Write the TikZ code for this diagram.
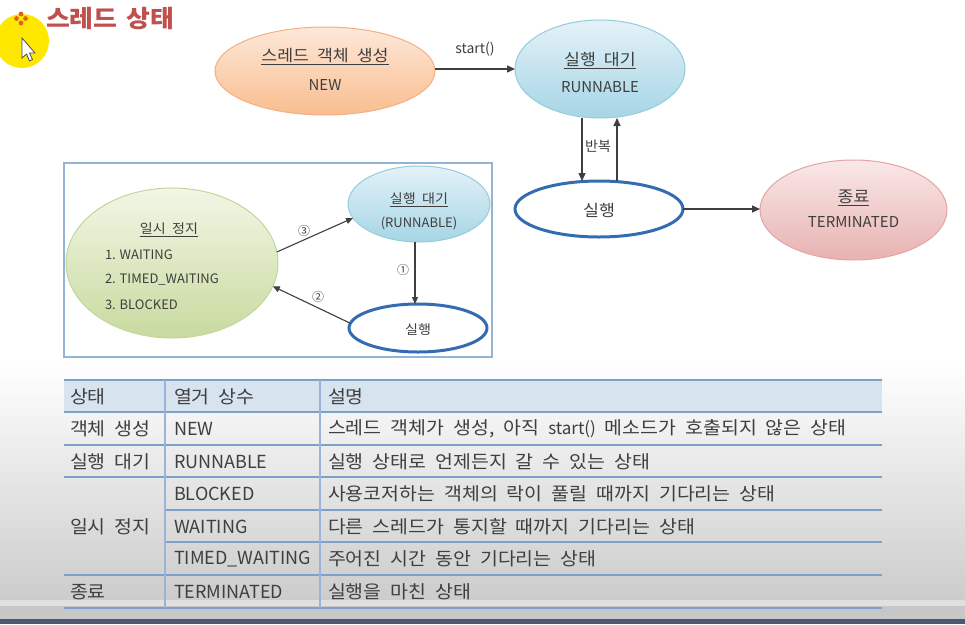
\documentclass[tikz,border=0pt]{standalone}
\usepackage{fontspec}
\setmainfont{Noto Sans CJK KR}
\newfontfamily\krs{Noto Sans CJK KR}[FakeStretch=1.08]
\usetikzlibrary{arrows.meta,shapes.geometric}
\newcommand\ws{\hspace{0.5em}}
\newcommand\tabfnt{\fontsize{18}{21}\selectfont}
\newcommand\tabkfnt{\krs\fontsize{18}{21}\selectfont}
\newcommand\bigkfnt{\krs\fontsize{16}{19}\selectfont}
\newcommand\bigfnt{\fontsize{15}{18}\selectfont}
\newcommand\smallkfnt{\krs\fontsize{13}{16}\selectfont}
\newcommand\titlefnt{\krs\fontsize{24}{27}\selectfont\bfseries}
\definecolor{txt}{HTML}{3F3F3F}
\definecolor{titlered}{HTML}{C0504D}
\definecolor{tline}{HTML}{7F9FCB}
\definecolor{vline}{HTML}{9AB3D8}
\definecolor{hdr}{HTML}{D8E3F0}
\begin{document}
\begin{tikzpicture}[x=1pt,y=-1pt,
  every node/.style={inner sep=0pt,outer sep=0pt,text=txt},
  ell/.style={ellipse,draw,line width=1pt},
  big/.style={font=\bigfnt},
  bigk/.style={font=\bigkfnt},
  small/.style={font=\fontsize{13}{16}\selectfont},
  smallk/.style={font=\smallkfnt},
  tab/.style={font=\tabfnt,anchor=west},
  tabk/.style={font=\tabkfnt,anchor=west},
  arr/.style={draw=txt,line width=1.3pt,-{Triangle[length=8pt,width=7pt]}},
  sarr/.style={draw=txt,line width=1.1pt,-{Triangle[length=7pt,width=6pt]}},
  hl/.style={draw=tline,line width=1.8pt},
  vl/.style={draw=vline,line width=1.1pt}]
\useasboundingbox (0,0) rectangle (965,624);
% background
\fill[white] (0,0) rectangle (965,362);
\shade[top color=white,bottom color={black!20}] (0,362) rectangle (965,600);
\fill[black!12] (0,600) rectangle (965,606);
\fill[black!22] (0,606) rectangle (965,619);
\fill[fill={rgb,255:red,76;green,88;blue,112}] (0,619) rectangle (965,624);
% cursor highlight
\fill[fill={rgb,255:red,255;green,232;blue,0}] (22,41) circle (27);
\foreach \p in {(21,14),(16.5,18.5),(25.5,18.5),(21,23)} \fill[fill={rgb,255:red,217;green,100;blue,30}] \p circle (2.4);
\filldraw[fill=white,draw=black!70,line width=0.8pt] (22,38) -- (22,58) -- (26.5,54) -- (29.5,61) -- (32.5,59.5) -- (29.5,53) -- (35,53) -- cycle;
% title
\node[anchor=west,text=titlered,font=\titlefnt] (title) at (46,19) {스레드\hspace{9pt}상태};
% NEW
\node[ell,draw={rgb,255:red,244;green,176;blue,132},top color={rgb,255:red,253;green,233;blue,217},bottom color={rgb,255:red,249;green,189;blue,143},minimum width=220pt,minimum height=88pt] (new) at (325,71) {};
\node[bigk] (newk) at (325,57) {\underline{스레드\ws 객체\ws 생성}};
\node[big] (newe) at (325,85) {NEW};
% RUNNABLE
\node[ell,draw={rgb,255:red,146;green,205;blue,220},top color={rgb,255:red,228;green,242;blue,248},bottom color={rgb,255:red,166;green,213;blue,229},minimum width=170pt,minimum height=98pt] (runb) at (600,69) {};
\node[bigk] (runk) at (600,61) {\underline{실행\ws 대기}};
\node[big] (rune) at (600,87) {RUNNABLE};
\draw[arr] (new.east |- 0,69) -- (runb.west) node[midway,above=13pt,font=\fontsize{14}{16}\selectfont] (startl) {start()};
% exec
\node[ell,draw={rgb,255:red,52;green,108;blue,178},line width=3pt,fill=white,minimum width=168pt,minimum height=56pt] (exec) at (599,209) {};
\node[bigk] (execk) at (599,210) {실행};
\draw[arr] ([xshift=-18pt]runb.south) -- ([xshift=-17pt]exec.north);
\draw[arr] ([xshift=18pt]exec.north) -- ([xshift=17pt]runb.south);
\node[font=\fontsize{14}{16}\selectfont] (rep) at (598,146) {반복};
% TERMINATED
\node[ell,draw={rgb,255:red,230;green,163;blue,163},top color={rgb,255:red,250;green,232;blue,232},bottom color={rgb,255:red,232;green,178;blue,178},minimum width=187pt,minimum height=100pt] (term) at (853.5,210) {};
\node[bigk] (termk) at (853.5,198) {\underline{종료}};
\node[big] (terme) at (853.5,222) {TERMINATED};
\draw[arr] (exec.east) -- (term.west |- exec.east);
% inset box
\node[draw={rgb,255:red,149;green,179;blue,215},line width=1.5pt,minimum width=428pt,minimum height=194pt] (box) at (278,260) {};
\node[ell,draw={rgb,255:red,195;green,214;blue,155},top color={rgb,255:red,242;green,246;blue,230},bottom color={rgb,255:red,200;green,218;blue,158},minimum width=212pt,minimum height=150pt] (wait) at (172,263) {};
\node[smallk] (waitk) at (169,230) {\underline{일시\ws 정지}};
\node[small,anchor=west] (w1) at (105,255) {1. WAITING};
\node[small,anchor=west] (w2) at (105,280) {2. TIMED\_WAITING};
\node[small,anchor=west] (w3) at (105,305) {3. BLOCKED};
\node[ell,draw={rgb,255:red,146;green,205;blue,220},top color={rgb,255:red,228;green,242;blue,248},bottom color={rgb,255:red,166;green,213;blue,229},minimum width=142pt,minimum height=76pt] (sr) at (419,204) {};
\node[smallk] (srk) at (419,200) {\underline{실행\ws 대기}};
\node[small] (sre) at (419,223) {(RUNNABLE)};
\node[ell,draw={rgb,255:red,52;green,108;blue,178},line width=3pt,fill=white,minimum width=138pt,minimum height=48pt] (se) at (418,328) {};
\node[smallk] (sek) at (418,330) {실행};
\draw[sarr] ([xshift=-4pt]sr.south) -- ([xshift=-3pt]se.north);
\node[font=\fontsize{12}{14}\selectfont] (c1) at (403,270) {①};
\draw[sarr] (wait.6) -- (sr.192);
\node[font=\fontsize{12}{14}\selectfont] (c3) at (304,231) {③};
\draw[sarr] (se.176) -- (wait.-13);
\node[font=\fontsize{12}{14}\selectfont] (c2) at (318,297) {②};
% table
\fill[hdr] (64,380) rectangle (882,412);
\foreach \yy in {380,412,445,477,575,608} \draw[hl] (64,\yy) -- (882,\yy);
\foreach \yy in {510,542} \draw[hl] (165,\yy) -- (882,\yy);
\foreach \xx in {165,320} \draw[vl] (\xx,380) -- (\xx,608);
\node[tabk] (h1) at (70,397) {상태};
\node[tabk] (h2) at (174,397) {열거\ws 상수};
\node[tabk] (h3) at (328,397) {설명};
\node[tabk] (a1) at (70,429) {객체\ws 생성};
\node[tab] (a2) at (174,429) {NEW};
\node[tabk] (a3) at (328,429) {스레드\ws 객체가\ws 생성,\ws 아직\ws {\rmfamily\fontsize{17}{20}\selectfont start()}\ws 메소드가\ws 호출되지\ws 않은\ws 상태};
\node[tabk] (b1) at (70,462) {실행\ws 대기};
\node[tab] (b2) at (174,462) {RUNNABLE};
\node[tabk] (b3) at (328,462) {실행\ws 상태로\ws 언제든지\ws 갈\ws 수\ws 있는\ws 상태};
\node[tabk] (c1t) at (70,527) {일시\ws 정지};
\node[tab] (c2t) at (174,494) {BLOCKED};
\node[tabk] (c3t) at (328,494) {사용코저하는\ws 객체의\ws 락이\ws 풀릴\ws 때까지\ws 기다리는\ws 상태};
\node[tab] (d2) at (174,527) {WAITING};
\node[tabk] (d3) at (328,527) {다른\ws 스레드가\ws 통지할\ws 때까지\ws 기다리는\ws 상태};
\node[tab] (e2) at (174,559) {TIMED\_WAITING};
\node[tabk] (e3) at (328,559) {주어진\ws 시간\ws 동안\ws 기다리는\ws 상태};
\node[tabk] (f1) at (70,592) {종료};
\node[tab] (f2) at (174,592) {TERMINATED};
\node[tabk] (f3) at (328,592) {실행을\ws 마친\ws 상태};
\end{tikzpicture}
\end{document}
